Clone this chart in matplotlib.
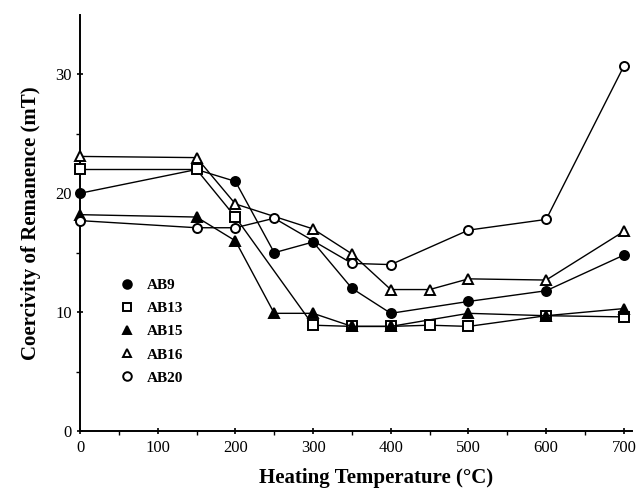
import numpy as np
from matplotlib import pyplot as plt

# heating steps (deg C) and coercivity of remanence (mT) per sample
temp_ab9 = [0, 150, 200, 250, 300, 350, 400, 500, 600, 700]
ab9 = [20.0, 22.0, 21.0, 15.0, 15.9, 12.0, 9.9, 10.9, 11.8, 14.8]

temp_ab13 = [0, 150, 200, 300, 350, 400, 450, 500, 600, 700]
ab13 = [22.0, 22.0, 18.0, 8.9, 8.8, 8.8, 8.9, 8.8, 9.7, 9.6]

temp_ab15 = [0, 150, 200, 250, 300, 350, 400, 500, 600, 700]
ab15 = [18.2, 18.0, 16.0, 9.9, 9.9, 8.8, 8.8, 9.9, 9.7, 10.3]

temp_ab16 = [0, 150, 200, 300, 350, 400, 450, 500, 600, 700]
ab16 = [23.1, 23.0, 19.1, 17.0, 14.9, 11.9, 11.9, 12.8, 12.7, 16.8]

temp_ab20 = [0, 150, 200, 250, 350, 400, 500, 600, 700]
ab20 = [17.7, 17.1, 17.1, 17.9, 14.1, 14.0, 16.9, 17.8, 30.7]

series = [
    ('AB9', temp_ab9, ab9, 'o', 'black'),
    ('AB13', temp_ab13, ab13, 's', 'white'),
    ('AB15', temp_ab15, ab15, '^', 'black'),
    ('AB16', temp_ab16, ab16, '^', 'white'),
    ('AB20', temp_ab20, ab20, 'o', 'white'),
]

plt.rcParams['font.family'] = 'Liberation Serif'

fig = plt.figure(figsize=(6.37, 4.91), dpi=100)
ax = fig.add_axes([0.1256, 0.1222, 0.866, 0.8473])

for name, t, v, mk, fc in series:
    ax.plot(t, v, color='black', lw=1.0, marker=mk, ms=6.5,
            mfc=fc, mec='black', mew=1.4, label=name, clip_on=False,
            zorder=3)

ax.set_xlim(0, 710)
ax.set_ylim(0, 35)
ax.set_xticks(np.arange(0, 701, 100))
ax.set_xticks(np.arange(50, 701, 100), minor=True)
ax.set_yticks([0, 10, 20, 30])
ax.set_yticks([5, 15, 25], minor=True)

for s in ['top', 'right']:
    ax.spines[s].set_visible(False)
for s in ['left', 'bottom']:
    ax.spines[s].set_linewidth(1.4)

ax.tick_params(axis='both', which='major', labelsize=12, width=1.2,
               length=5, direction='inout')
ax.tick_params(axis='both', which='minor', width=1.0, length=3,
               direction='out')
ax.tick_params(axis='x', pad=4)

ax.set_xlabel('Heating Temperature (°C)', fontsize=15, fontweight='bold')
ax.xaxis.set_label_coords(0.537, -0.088)
ax.set_ylabel('Coercivity of Remanence (mT)', fontsize=15,
              fontweight='bold', labelpad=10)

leg = ax.legend(loc='upper left', bbox_to_anchor=(0.05, 0.40),
                frameon=False, handlelength=0.8, handletextpad=0.9,
                labelspacing=0.62, prop={'size': 11, 'weight': 'bold'},
                markerscale=0.95)
for line in leg.get_lines():
    line.set_linestyle('none')

fig.savefig('out.png', dpi=100)
